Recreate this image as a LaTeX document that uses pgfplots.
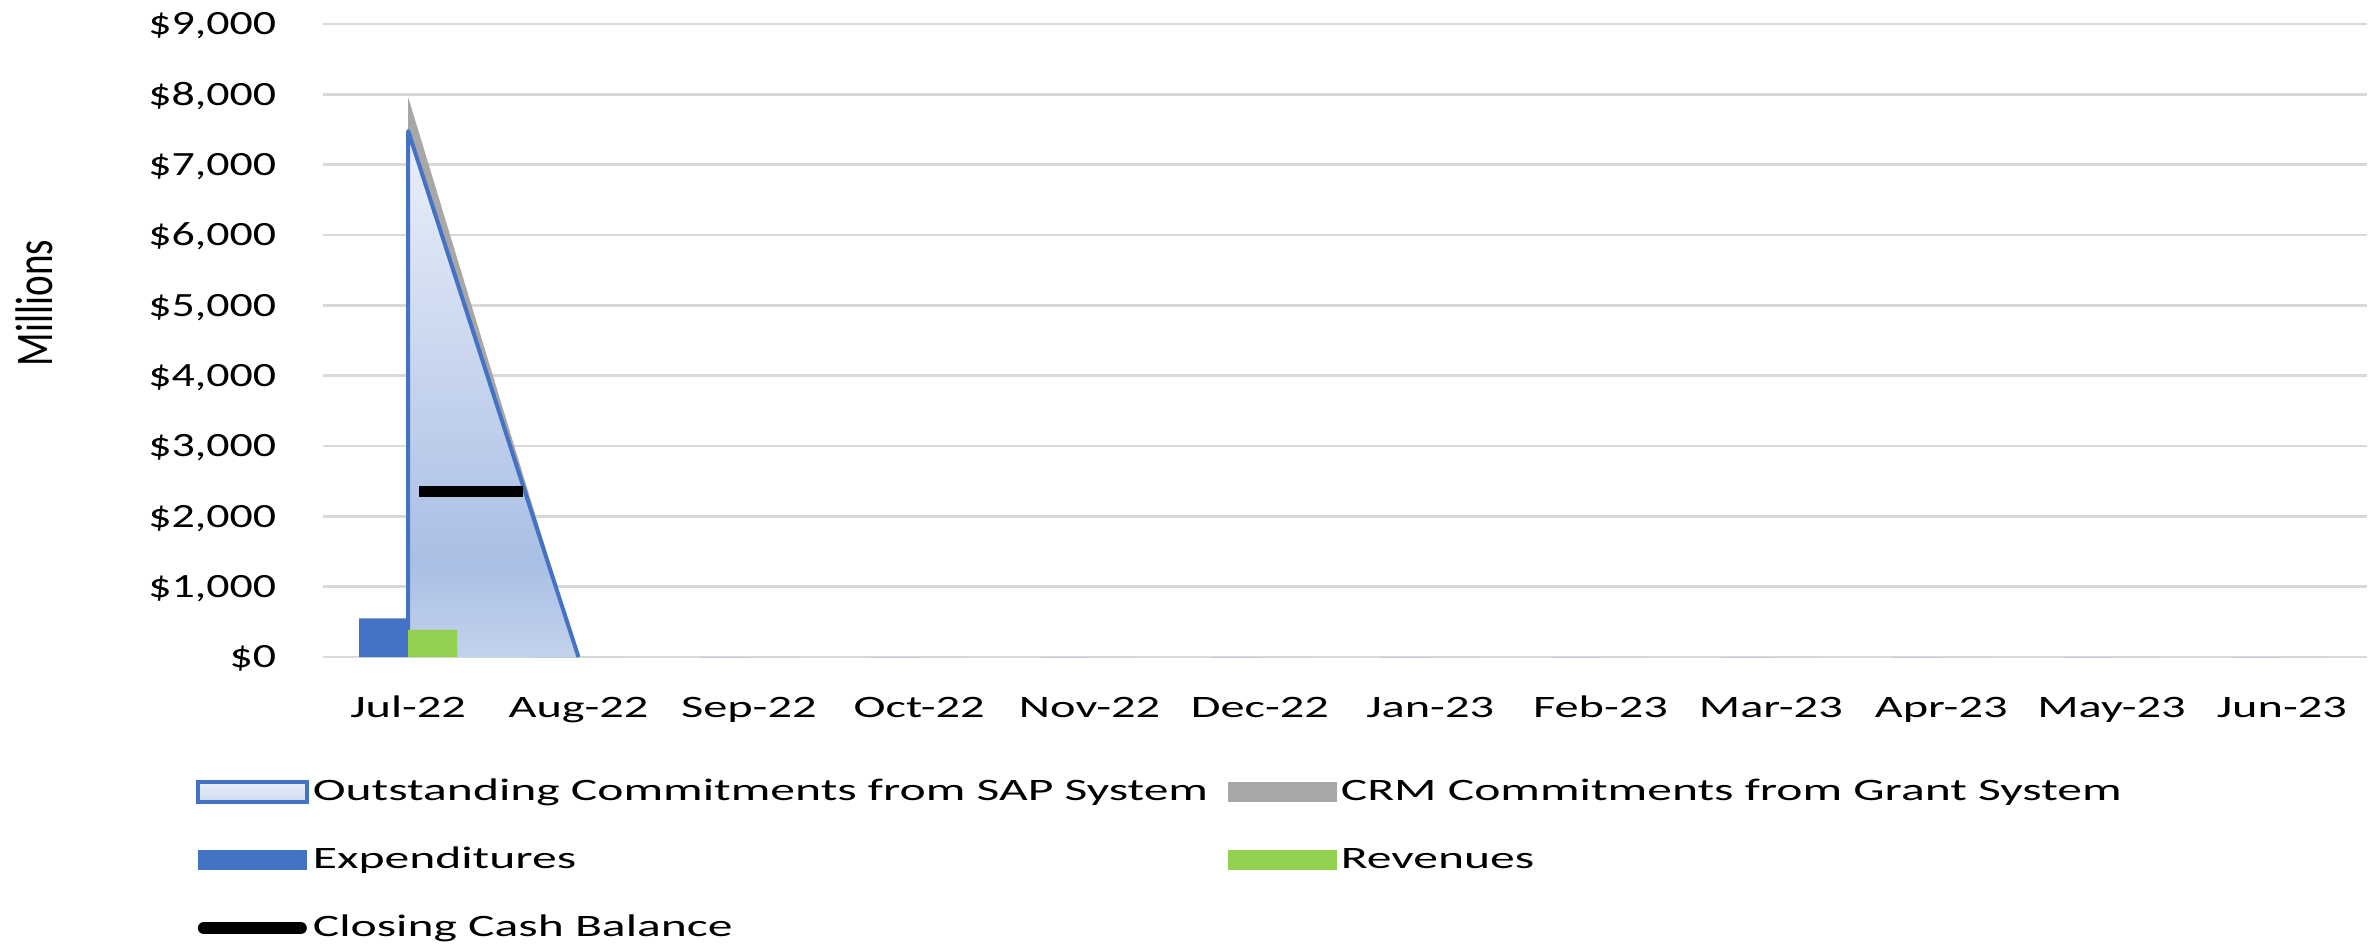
\documentclass[border=0pt]{standalone}
\usepackage{pgfplots}
\pgfplotsset{compat=1.18}
\usepackage{fontspec}
\setmainfont{Carlito}
\newfontfamily\legfont[FakeStretch=1.59]{Carlito}
\newfontfamily\xfont[FakeStretch=1.55]{Carlito}
\newfontfamily\tickfont[FakeStretch=1.35]{Carlito}
\definecolor{xblue}{HTML}{4472C4}
\definecolor{xgreen}{HTML}{92D050}
\definecolor{xgray}{HTML}{A9A6A6}
\definecolor{gridc}{HTML}{D9D9D9}
\definecolor{aone}{HTML}{EBF0F9}
\definecolor{atwo}{HTML}{AABFE5}
\definecolor{athree}{HTML}{C3D2EC}
\pgfdeclareverticalshading{areashade}{100bp}{color(0bp)=(athree); color(25bp)=(athree); color(34bp)=(atwo); color(75bp)=(aone); color(100bp)=(aone)}
\begin{document}
\begin{tikzpicture}
\useasboundingbox (0,0) rectangle (594.75pt,236.25pt);
\begin{axis}[
  at={(80.75pt,72pt)}, anchor=south west,
  scale only axis, width=511pt, height=158.25pt,
  xmin=-0.5, xmax=11.5, ymin=0, ymax=9000,
  axis line style={draw=none},
  major tick length=0pt,
  ymajorgrids, grid style={color=gridc, line width=0.65pt},
  xtick={0,...,11},
  xticklabels={Jul-22,Aug-22,Sep-22,Oct-22,Nov-22,Dec-22,Jan-23,Feb-23,Mar-23,Apr-23,May-23,Jun-23},
  xticklabel style={font=\xfont\fontsize{7.8pt}{9pt}\selectfont, anchor=base, yshift=-15pt},
  ytick={0,1000,...,9000},
  yticklabels={{\$0},{\$1,000},{\$2,000},{\$3,000},{\$4,000},{\$5,000},{\$6,000},{\$7,000},{\$8,000},{\$9,000}},
  yticklabel style={font=\tickfont\fontsize{8.5pt}{10pt}\selectfont, anchor=base east, inner sep=0pt, xshift=-11.5pt, yshift=-2.7pt},
  legend columns=2,
  legend cell align=left,
  legend style={at={(-0.0626,-0.190)}, anchor=north west, draw=none, fill=none,
    font=\legfont\fontsize{7.8pt}{9pt}\selectfont,
    inner sep=0pt, row sep=10pt,
    /tikz/every odd column/.append style={column sep=1pt},
    /tikz/every even column/.append style={column sep=2.75pt},
    nodes={inner sep=0pt, text height=5.5pt, text depth=1.5pt}},
]
% Outstanding Commitments (area fill)
\addplot[draw=none, shade, shading=areashade,
  legend image code/.code={\draw[draw=xblue, line width=1pt, top color=aone, bottom color=athree!85!white] (0pt,-2.6pt) rectangle (27.25pt,2.6pt);}]
  coordinates {(0,7480) (1,0) (2,0) (3,0) (4,0) (5,0) (6,0) (7,0) (8,0) (9,0) (10,0) (11,0)} \closedcycle;
\addlegendentry{\makebox[226pt][l]{Outstanding Commitments from SAP System}}
% CRM commitments stacked on top
\addplot[draw=none, fill=xgray,
  legend image code/.code={\fill[xgray] (0pt,-2.6pt) rectangle (27.25pt,2.6pt);}]
  coordinates {(0,7480) (0,7960) (1,0)} -- cycle;
\addlegendentry{CRM Commitments from Grant System}
% outline of outstanding commitments
\addplot[forget plot, draw=xblue, line width=1pt, line join=round]
  coordinates {(0,0) (0,7480) (1,0)};
% Expenditures
\addplot[ybar, bar width=12.25pt, bar shift=-6.125pt, fill=xblue, draw=none,
  legend image code/.code={\fill[xblue] (0pt,-2.5pt) rectangle (27.25pt,2.5pt);}]
  coordinates {(0,550) (1,0) (2,0) (3,0) (4,0) (5,0) (6,0) (7,0) (8,0) (9,0) (10,0) (11,0)};
\addlegendentry{\makebox[226pt][l]{Expenditures}}
% Revenues
\addplot[ybar, bar width=12.25pt, bar shift=6.125pt, fill=xgreen, draw=none,
  legend image code/.code={\fill[xgreen] (0pt,-2.5pt) rectangle (27.25pt,2.5pt);}]
  coordinates {(0,385) (1,0) (2,0) (3,0) (4,0) (5,0) (6,0) (7,0) (8,0) (9,0) (10,0) (11,0)};
\addlegendentry{Revenues}
% Closing cash balance
\addplot[black, line width=2.75pt,
  legend image code/.code={\draw[black, line width=3pt, line cap=round] (1.5pt,0pt) -- (25.75pt,0pt);}]
  coordinates {(0.065,2360) (0.675,2360)};
\addlegendentry{Closing Cash Balance}
\end{axis}
\node[font=\fontsize{9.8pt}{11pt}\selectfont, rotate=90, inner sep=0pt] at (8.5pt,160.5pt) {\scalebox{1}[1.35]{Millions}};
\end{tikzpicture}
\end{document}
